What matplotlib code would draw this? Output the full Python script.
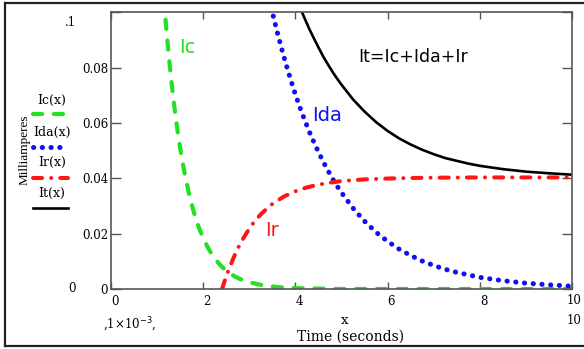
import matplotlib.pyplot as plt
from matplotlib.lines import Line2D

# data (x in ms, y in mA)
ic_x = [1.1, 1.15, 1.2, 1.25, 1.3, 1.35, 1.4, 1.45, 1.5, 1.55, 1.6, 1.7, 1.8, 1.9, 2.0, 2.1, 2.2,
        2.3, 2.4, 2.5, 2.6, 2.7, 2.8, 3.0, 3.3, 3.6, 4.0, 5.0, 6.0, 7.0, 8.0, 9.0, 10.0]
ic_y = [0.115, 0.1042, 0.0941, 0.0850, 0.0767, 0.0693, 0.0625, 0.0565, 0.0510, 0.0460, 0.0416,
        0.0339, 0.0276, 0.0225, 0.0184, 0.0150, 0.0122, 0.0100, 0.0081, 0.0066, 0.0054, 0.0044,
        0.0036, 0.0024, 0.0013, 0.0007, 0.0003, 0.0, 0.0, 0.0, 0.0, 0.0, 0.0]

ida_x = [3.4, 3.5, 3.6, 3.7, 3.8, 3.9, 4.0, 4.1, 4.2, 4.3, 4.4, 4.5, 4.6, 4.7, 4.8, 4.9, 5.0,
         5.25, 5.5, 5.75, 6.0, 6.25, 6.5, 6.75, 7.0, 7.25, 7.5, 8.0, 8.5, 9.0, 9.5, 10.0]
ida_y = [0.1073, 0.1, 0.0932, 0.0869, 0.0810, 0.0755, 0.0703, 0.0655, 0.0611, 0.0569, 0.0531,
         0.0495, 0.0461, 0.0430, 0.0400, 0.0373, 0.0348, 0.0292, 0.0245, 0.0205, 0.0172, 0.0144,
         0.0121, 0.0101, 0.0085, 0.0071, 0.0060, 0.0042, 0.0030, 0.0021, 0.0015, 0.0010]

ir_x = [2.41, 2.45, 2.5, 2.55, 2.6, 2.65, 2.7, 2.75, 2.85, 2.9, 3.0, 3.1, 3.25, 3.4, 3.5, 3.75,
        4.0, 4.25, 4.5, 4.75, 5.0, 5.5, 6.0, 6.5, 7.0, 8.0, 9.0, 10.0]
ir_y = [0.0, 0.0021, 0.0045, 0.0068, 0.0089, 0.0109, 0.0128, 0.0146, 0.0177, 0.0191, 0.0218,
        0.0241, 0.0270, 0.0293, 0.0307, 0.0334, 0.0353, 0.0367, 0.0377, 0.0384, 0.0390, 0.0396,
        0.0399, 0.0401, 0.0402, 0.0403, 0.0403, 0.0403]

it_x = [4.1, 4.2, 4.3, 4.4, 4.5, 4.6, 4.7, 4.8, 4.9, 5.0, 5.25, 5.5, 5.75, 6.0, 6.25, 6.5, 6.75,
        7.0, 7.25, 7.5, 7.75, 8.0, 8.5, 9.0, 9.5, 10.0]
it_y = [0.1017, 0.0978, 0.0940, 0.0906, 0.0873, 0.0841, 0.0813, 0.0786, 0.0761, 0.0738, 0.0685,
        0.0641, 0.0603, 0.0571, 0.0544, 0.0522, 0.0503, 0.0487, 0.0473, 0.0463, 0.0453, 0.0445,
        0.0433, 0.0424, 0.0418, 0.0413]

x_ticks = [0, 2, 4, 6, 8, 10]
x_labels = ["0", "2", "4", "6", "8", ""]   # the "10" is placed by hand so it stays inside
y_ticks = [0, 0.02, 0.04, 0.06, 0.08, 0.1]
y_labels = ["0", "0.02", "0.04", "0.06", "0.08", ""]

GREEN = "#22e022"
BLUE = "#1010f0"
RED = "#ff1515"

W, H = 584, 349


def px(x, y):
    return x / W, 1 - y / H


styles = {
    "ic": dict(color=GREEN, lw=3.0, linestyle=(0, (2.2, 2.8)), dash_capstyle="round"),
    "ida": dict(color=BLUE, lw=3.6, linestyle=(0, (0.05, 1.7)), dash_capstyle="round"),
    "ir": dict(color=RED, lw=2.9, linestyle=(0, (2.25, 2.25, 0.01, 2.25)), dash_capstyle="round"),
    "it": dict(color="black", lw=1.9, linestyle="-"),
}

serif = "DejaVu Serif"

fig = plt.figure(figsize=(W / 100, H / 100), dpi=100)
ax = fig.add_axes([0.190, 0.172, 0.7895, 0.793])

ax.plot(ic_x, ic_y, **styles["ic"])
ax.plot(ida_x, ida_y, **styles["ida"])
ax.plot(ir_x, ir_y, **styles["ir"])
ax.plot(it_x, it_y, **styles["it"])

ax.set_xlim(0, 10)
ax.set_ylim(0, 0.1)
ax.set_xticks(x_ticks)
ax.set_xticklabels(x_labels, fontfamily=serif, fontsize=8.5, ha="left")
ax.set_yticks(y_ticks)
ax.set_yticklabels(y_labels, fontfamily=serif, fontsize=8.5)
ax.tick_params(axis="x", direction="in", top=True, length=5, width=1, color="#555555", pad=4)
ax.tick_params(axis="y", direction="in", right=True, length=7.5, width=1, color="#555555", pad=2)
for s in ax.spines.values():
    s.set_color("#555555")
    s.set_linewidth(1.2)

# labels inside the plot
lab = "DejaVu Sans"
ax.text(1.65, 0.0871, "Ic", color=GREEN, fontsize=14, fontfamily=lab, ha="center", va="center")
ax.text(4.69, 0.0625, "Ida", color=BLUE, fontsize=14, fontfamily=lab, ha="center", va="center")
ax.text(3.5, 0.0213, "Ir", color=RED, fontsize=14, fontfamily=lab, ha="center", va="center")
ax.text(6.56, 0.0838, "It=Ic+Ida+Ir", color="black", fontsize=12.5, fontfamily=lab, ha="center", va="center")

# mathcad style placeholders and axis titles
fig.text(*px(70, 22), ".1", fontfamily=serif, fontsize=8.5, ha="center", va="center")
fig.text(*px(72, 288), "0", fontfamily=serif, fontsize=8.5, ha="center", va="center")
fig.text(*px(130, 325), ",1×10$^{-3}$,", fontfamily=serif, fontsize=8.5, ha="center", va="center")
fig.text(*px(567, 301), "10", fontfamily=serif, fontsize=8.5, ha="left", va="center")
fig.text(*px(567, 320), "10", fontfamily=serif, fontsize=8.5, ha="left", va="center")
fig.text(*px(345, 320), "x", fontfamily=serif, fontsize=9.5, ha="center", va="center")
fig.text(*px(351, 337), "Time (seconds)", fontfamily=serif, fontsize=10, ha="center", va="center")
fig.text(*px(25, 150), "Milliamperes", fontfamily="Liberation Serif", fontsize=9.5,
         rotation=90, ha="center", va="center")

# legend at the left
legend_rows = [
    ("Ic(x)", 100, "ic", 33, 65, 114),
    ("Ida(x)", 132, "ida", 33, 62, 147),
    ("Ir(x)", 162, "ir", 33, 68, 178),
    ("It(x)", 193, "it", 33, 68, 208),
]
for name, ty, key, x0, x1, ly in legend_rows:
    fig.text(*px(52, ty), name, fontfamily=serif, fontsize=9, ha="center", va="center")
    (a0, b0), (a1, b1) = px(x0, ly), px(x1, ly)
    fig.add_artist(Line2D([a0, a1], [b0, b1], transform=fig.transFigure, **styles[key]))

# outer frame (right edge runs off the picture)
for xs, ys in [((5, 5), (3, 346)), ((5, 590), (3, 3)), ((5, 590), (346, 346))]:
    (a0, b0), (a1, b1) = px(xs[0], ys[0]), px(xs[1], ys[1])
    fig.add_artist(Line2D([a0, a1], [b0, b1], transform=fig.transFigure, color="#222222", lw=1.6))

fig.savefig("out.png", dpi=100)
